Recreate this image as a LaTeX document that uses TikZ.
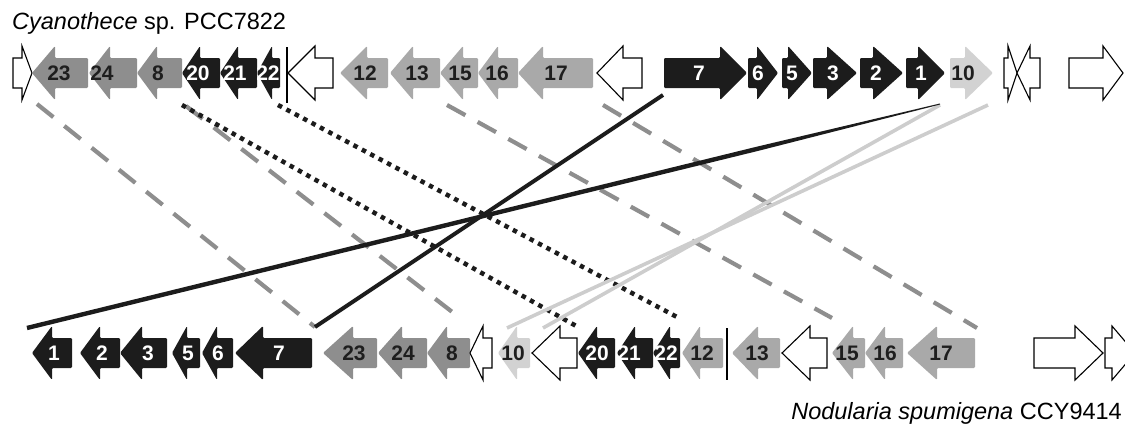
\documentclass[tikz,border=0pt]{standalone}
\usepackage{fontspec}
\setmainfont{Liberation Sans}
\usetikzlibrary{calc}

\definecolor{geneblack}{HTML}{1C1C1C}
\definecolor{genedark}{HTML}{8E8E8E}
\definecolor{genelight}{HTML}{A9A9A9}
\definecolor{genepale}{HTML}{D2D2D2}
\definecolor{labeldark}{HTML}{1E1E1E}
\definecolor{linkgray}{HTML}{8E8E8E}
\definecolor{linkpale}{HTML}{CDCDCD}

\newcommand\labelfont{\bfseries\fontsize{21}{21}\selectfont}

% filled gene arrow: name, tail x, head-base x, tip x, row y, style, label style, label x, label
\newcommand\genearrow[9]{%
  \path[#6] (#2,#5-15) -- (#3,#5-15) -- (#3,#5-27) -- (#4,#5)
            -- (#3,#5+27) -- (#3,#5+15) -- (#2,#5+15) -- cycle;
  \node[#7] (#1) at (#8,#5) {#9};
}
% open (white) gene arrow: tail x, head-base x, tip x, row y
\newcommand\openarrow[4]{%
  \path[opengene] (#1,#4-15) -- (#2,#4-15) -- (#2,#4-27) -- (#3,#4)
            -- (#2,#4+27) -- (#2,#4+15) -- (#1,#4+15) -- cycle;
}

\tikzset{
  blkgene/.style={fill=geneblack, rounded corners=1.2pt},
  dkgene/.style={fill=genedark, rounded corners=1.2pt},
  ltgene/.style={fill=genelight, rounded corners=1.2pt},
  palegene/.style={fill=genepale, rounded corners=1.2pt},
  opengene/.style={draw=black, line width=1.1pt, fill=white, line join=miter},
  wlbl/.style={text=white, font=\labelfont, inner sep=0pt},
  dlbl/.style={text=labeldark, font=\labelfont, inner sep=0pt},
  dashlink/.style={draw=linkgray, line width=4.2pt, dash pattern=on 21pt off 14pt},
  dotlink/.style={draw=geneblack, line width=4.5pt, dash pattern=on 4.5pt off 5pt},
  solidlink/.style={draw=geneblack, line width=4pt},
  palelink/.style={draw=linkpale, line width=3.6pt},
  boundary/.style={draw=black, line width=1.2pt},
  species/.style={font=\fontsize{23.5}{23.5}\selectfont, inner sep=0pt},
}

\begin{document}
\begin{tikzpicture}[x=1pt,y=-1pt]
\useasboundingbox (0,0) rectangle (1125,426);
\clip (0,0) rectangle (1125,426);

% ---------------- upper genome ----------------
\node[species, anchor=base west] (upname) at (12,29) {\textit{Cyanothece} sp. PCC7822};

\openarrow{13}{22}{32}{73}
\genearrow{u23}{88}{55}{32}{73}{dkgene}{dlbl}{59}{23}
\genearrow{u24}{137}{110}{89}{73}{dkgene}{dlbl}{102}{24}
\genearrow{u8}{182}{157}{137}{73}{dkgene}{dlbl}{158}{8}
\genearrow{u20}{220}{200}{182}{73}{blkgene}{wlbl}{198}{20}
\genearrow{u21}{257}{238}{220}{73}{blkgene}{wlbl}{235}{21}
\genearrow{u22}{280}{272}{257}{73}{blkgene}{wlbl}{268}{22}
\draw[boundary] (287,47) -- (287,103);
\openarrow{333}{315}{288}{73}
\genearrow{u12}{388}{367}{340}{73}{ltgene}{dlbl}{365}{12}
\genearrow{u13}{440}{413}{390}{73}{ltgene}{dlbl}{417}{13}
\genearrow{u15}{478}{463}{440}{73}{ltgene}{dlbl}{460}{15}
\genearrow{u16}{518}{498}{478}{73}{ltgene}{dlbl}{497}{16}
\genearrow{u17}{593}{543}{518}{73}{ltgene}{dlbl}{556}{17}
\openarrow{642}{623}{597}{73}
\genearrow{u7}{664}{720}{747}{73}{blkgene}{wlbl}{699}{7}
\genearrow{u6}{748}{757}{778}{73}{blkgene}{wlbl}{758}{6}
\genearrow{u5}{782}{788}{812}{73}{blkgene}{wlbl}{792}{5}
\genearrow{u3}{813}{827}{857}{73}{blkgene}{wlbl}{833}{3}
\genearrow{u2}{860}{873}{903}{73}{blkgene}{wlbl}{876}{2}
\genearrow{u1}{906}{918}{945}{73}{blkgene}{wlbl}{921}{1}
\genearrow{u10}{950}{965}{993}{73}{palegene}{dlbl}{963}{10}
\openarrow{1004}{1008}{1017}{73}
\openarrow{1040}{1030}{1017}{73}
\openarrow{1069}{1103}{1123}{73}

% ---------------- lower genome ----------------
\genearrow{l1}{72}{52}{32}{353}{blkgene}{wlbl}{54}{1}
\genearrow{l2}{120}{100}{80}{353}{blkgene}{wlbl}{102}{2}
\genearrow{l3}{167}{142}{120}{353}{blkgene}{wlbl}{148}{3}
\genearrow{l5}{200}{187}{172}{353}{blkgene}{wlbl}{188}{5}
\genearrow{l6}{233}{217}{202}{353}{blkgene}{wlbl}{218}{6}
\genearrow{l7}{312}{263}{235}{353}{blkgene}{wlbl}{279}{7}
\genearrow{l23}{377}{353}{323}{353}{dkgene}{dlbl}{354}{23}
\genearrow{l24}{427}{402}{378}{353}{dkgene}{dlbl}{403}{24}
\genearrow{l8}{470}{447}{427}{353}{dkgene}{dlbl}{452}{8}
\openarrow{492}{483}{470}{353}
\genearrow{l10}{530}{517}{498}{353}{palegene}{dlbl}{513}{10}
\openarrow{577}{560}{532}{353}
\genearrow{l20}{615}{597}{578}{353}{blkgene}{wlbl}{597}{20}
\genearrow{l21}{653}{635}{617}{353}{blkgene}{wlbl}{629}{21}
\genearrow{l22}{680}{670}{653}{353}{blkgene}{wlbl}{666}{22}
\genearrow{l12}{723}{700}{682}{353}{ltgene}{dlbl}{702}{12}
\draw[boundary] (727,328) -- (727,380);
\genearrow{l13}{780}{758}{732}{353}{ltgene}{dlbl}{757}{13}
\openarrow{827}{810}{782}{353}
\genearrow{l15}{865}{853}{832}{353}{ltgene}{dlbl}{847}{15}
\genearrow{l16}{903}{885}{865}{353}{ltgene}{dlbl}{885}{16}
\genearrow{l17}{975}{937}{907}{353}{ltgene}{dlbl}{941}{17}
\openarrow{1034}{1075}{1103}{353}
\openarrow{1105}{1112}{1135}{353}

\node[species, anchor=base east] (lowname) at (1122,419) {\textit{Nodularia spumigena} CCY9414};

% ---------------- links between homologous genes ----------------
\coordinate (a23) at (37,104);   \coordinate (b23) at (315,327);
\coordinate (a8)  at (186,106);  \coordinate (b8)  at (460,318);
\coordinate (a20) at (182,105);  \coordinate (b20) at (578,327);
\coordinate (a22) at (278,105);  \coordinate (b22) at (677,317);
\coordinate (a15) at (447,105);  \coordinate (b15) at (832,318);
\coordinate (a17) at (603,105);  \coordinate (b17) at (977,328);
\coordinate (a7)  at (663,95);   \coordinate (b7)  at (315,327);
\coordinate (a1)  at (940,104);  \coordinate (b1)  at (27,328);
\coordinate (a10) at (940,105);  \coordinate (b10) at (543,328);
\coordinate (c10) at (988,105);  \coordinate (d10) at (507,328);

\draw[dashlink] (a23) -- (b23);
\draw[dashlink] (a8) -- (b8);
\draw[dashlink] (a15) -- (b15);
\draw[dashlink] (a17) -- (b17);
\draw[dotlink] (a20) -- (b20);
\draw[dotlink] (a22) -- (b22);
\draw[palelink] (a10) -- (b10);
\draw[palelink] (c10) -- (d10);
\draw[solidlink] (a7) -- (b7);
% the link for gene 1 narrows towards its upper end
\coordinate (m1) at ($(b1)!0.8!(a1)$);
\fill[geneblack] ($(b1)!2.2pt!90:(a1)$) -- ($(m1)!2.2pt!90:(a1)$)
  -- ($(a1)!0.5pt!-90:(b1)$) -- ($(a1)!0.5pt!90:(b1)$)
  -- ($(m1)!2.2pt!-90:(a1)$) -- ($(b1)!2.2pt!-90:(a1)$) -- cycle;
\end{tikzpicture}
\end{document}
